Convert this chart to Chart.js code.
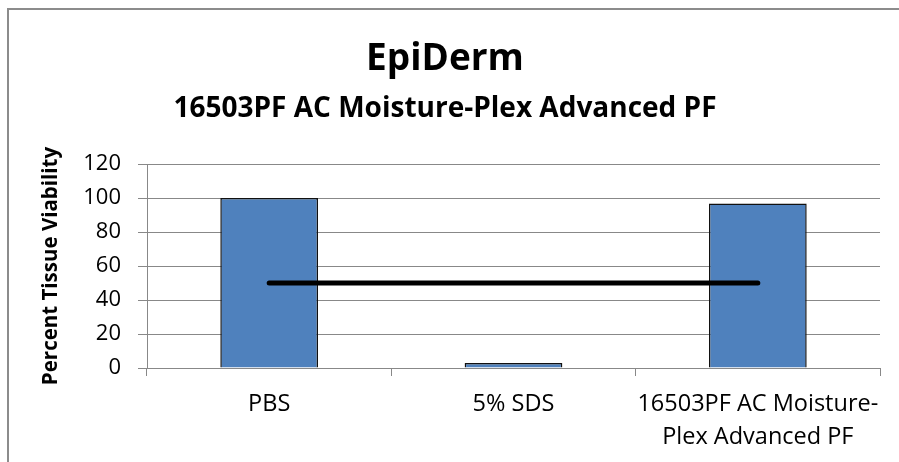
<!DOCTYPE html>
<html>
<head>
<meta charset="utf-8">
<title>EpiDerm</title>
<script src="https://cdn.jsdelivr.net/npm/chart.js@4.4.1/dist/chart.umd.min.js"></script>
<style>
  html, body { margin: 0; padding: 0; background: #fff; }
  #wrap { width: 899px; height: 462px; }
</style>
</head>
<body>
<div id="wrap"><canvas id="mycanvas" width="899" height="462"></canvas></div>
<script>
// chart values
var categories = ["PBS", "5% SDS", ["16503PF AC Moisture-", "Plex Advanced PF"]];
var viability = [100, 3, 96.7];
var cutoff = [50, 50, 50];
var yTicks = [0, 20, 40, 60, 80, 100, 120];

var fontName = "'Open Sans', sans-serif";
var gridGray = "#888888";

// grey frame round the chart, like the office chart box
var framePlugin = {
	id: "frame",
	beforeDraw: function(chart) {
		var c = chart.ctx;
		c.save();
		c.fillStyle = "#ffffff";
		c.fillRect(0, 0, chart.width, chart.height);
		c.strokeStyle = "#8c8c8c";
		c.lineWidth = 2;
		c.strokeRect(8, 9, chart.width + 20, chart.height + 20);
		c.restore();
	}
};

var ctx = document.getElementById("mycanvas");

var chart = new Chart(ctx, {
	type: "bar",
	data: {
		labels: categories,
		datasets: [
			{
				type: "line",
				label: "50% cut-off",
				data: cutoff,
				borderColor: "#000000",
				borderWidth: 5,
				borderCapStyle: "round",
				pointRadius: 0,
				fill: false,
				order: 0
			},
			{
				label: "Percent Tissue Viability",
				data: viability,
				backgroundColor: "#4f81bd",
				borderColor: "#111111",
				borderWidth: 1.5,
				categoryPercentage: 1,
				barPercentage: 0.4,
				order: 1
			}
		]
	},
	options: {
		responsive: false,
		animation: false,
		layout: { padding: { left: 10, right: 19, top: 0, bottom: 0 } },
		plugins: {
			legend: { display: false },
			tooltip: { enabled: false },
			title: {
				display: true,
				text: "EpiDerm",
				color: "#000",
				font: { family: fontName, size: 37, weight: "bold", lineHeight: 1.2 },
				padding: { top: 37, bottom: 0 }
			},
			subtitle: {
				display: true,
				text: "16503PF AC Moisture-Plex Advanced PF",
				color: "#000",
				font: { family: fontName, size: 28, weight: "bold", lineHeight: 1.2 },
				padding: { top: 11, bottom: 38 }
			}
		},
		scales: {
			x: {
				offset: true,
				afterFit: function(scale) { scale.height = 94; },
				grid: {
					offset: true,
					drawOnChartArea: false,
					color: gridGray,
					tickLength: 8,
					tickColor: gridGray
				},
				border: { color: gridGray, width: 1 },
				ticks: {
					color: "#000",
					padding: 12,
					maxRotation: 0,
					autoSkip: false,
					font: { family: fontName, size: 23.5, lineHeight: 1.4 }
				}
			},
			y: {
				min: 0,
				max: 120,
				afterFit: function(scale) { scale.width = 137; },
				afterBuildTicks: function(scale) {
					scale.ticks = yTicks.map(function(v) { return { value: v }; });
				},
				grid: {
					color: gridGray,
					tickLength: 9,
					tickColor: gridGray
				},
				border: { color: gridGray, width: 1 },
				ticks: {
					color: "#000",
					padding: 17,
					font: { family: fontName, size: 22 }
				},
				title: {
					display: true,
					text: "Percent Tissue Viability",
					color: "#000",
					font: { family: fontName, size: 20.5, weight: "bold", lineHeight: 1.2 },
					padding: { top: 29, bottom: 0 }
				}
			}
		}
	},
	plugins: [framePlugin]
});
</script>
</body>
</html>
